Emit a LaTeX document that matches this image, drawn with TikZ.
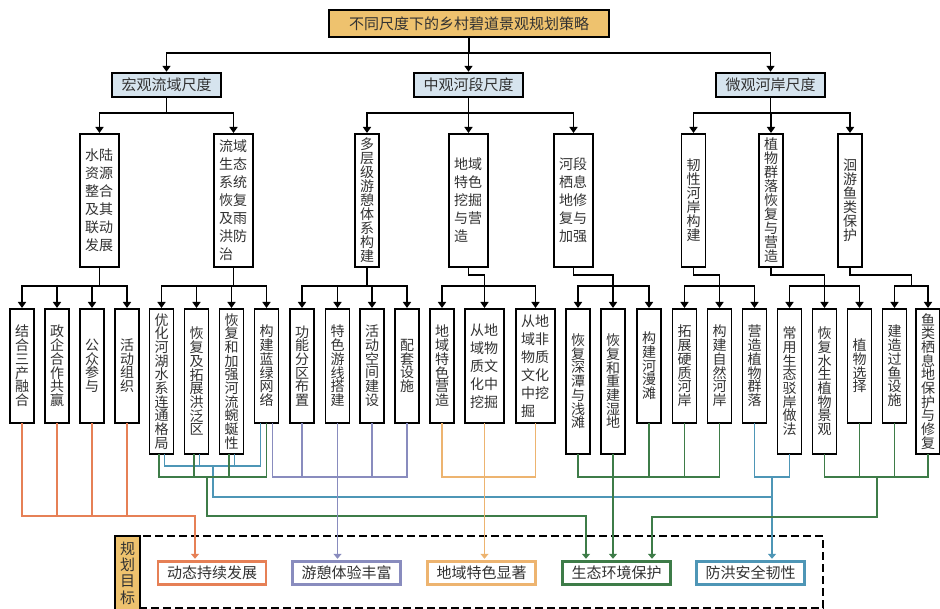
\documentclass[tikz,border=0pt]{standalone}
\usepackage{fontspec}
\setmainfont{Noto Sans CJK SC}
\usetikzlibrary{arrows.meta}
\setlength{\lineskiplimit}{-20pt}
\definecolor{gold}{RGB}{238,194,110}
\definecolor{lblue}{RGB}{214,228,238}
\definecolor{txt}{RGB}{50,50,50}
\definecolor{og}{RGB}{230,128,86}
\definecolor{pu}{RGB}{137,140,190}
\definecolor{tn}{RGB}{237,180,112}
\definecolor{gr}{RGB}{62,124,72}
\definecolor{bl}{RGB}{78,150,182}
\ExplSyntaxOn
\seq_new:N \l_vt_seq
\NewDocumentCommand\V{m}{
  \seq_clear:N \l_vt_seq
  \tl_map_inline:nn {#1} { \seq_put_right:Nn \l_vt_seq {##1} }
  \seq_use:Nn \l_vt_seq {\\}
}
\ExplSyntaxOff
\tikzset{
 conn/.style={line width=1.5pt, line cap=rect},
 arr/.style={conn, -{Triangle[width=8pt,length=6pt]}},
 topbox/.style={draw, line width=2.6pt, fill=gold, minimum width=280pt, minimum height=27pt, inner sep=0pt, text=txt, font=\fontsize{15}{15}\selectfont},
 midbox/.style={draw, line width=2.4pt, fill=lblue, minimum width=109pt, minimum height=24pt, inner sep=0pt, text=txt, font=\fontsize{15}{15}\selectfont},
 vbox/.style={draw, line width=1.7pt, fill=white, inner sep=0pt, text=txt, anchor=north},
 onecol/.style={vbox, minimum width=24pt, text width=15pt, align=center, font=\fontsize{14}{13.7}\selectfont},
 onecolb/.style={vbox, minimum width=24pt, text width=15pt, align=center, font=\fontsize{14}{14}\selectfont},
 twocol/.style={vbox, minimum width=39pt, text width=29pt, align=left, font=\fontsize{14}{18}\selectfont},
 lthree/.style={minimum height=133pt},
 lshort/.style={minimum height=114pt},
 ltall/.style={minimum height=145pt},
 goal/.style={draw=#1, line width=2.4pt, fill=white, minimum width=108pt, minimum height=23pt, inner sep=0pt, text=txt, font=\fontsize{15}{15}\selectfont},
 cl/.style={draw=#1, line width=1.3pt, line cap=rect},
 carr/.style={cl=#1, -{Triangle[width=8pt,length=5pt]}, shorten >=1.5pt},
}
\begin{document}
\begin{tikzpicture}[x=1pt,y=-1pt]
\useasboundingbox (0,0) rectangle (940,609);
% level 1 and 2
\node[topbox] (T) at (469,23.5) {不同尺度下的乡村碧道景观规划策略};
\node[midbox] (M) at (166.5,85) {宏观流域尺度};
\node[midbox] (S) at (468.5,85) {中观河段尺度};
\node[midbox] (W) at (770.5,85) {微观河岸尺度};
% level 3
\node[twocol,lthree] (A) at (99.5,133) {水陆\\资源\\整合\\及其\\联动\\发展};
\node[twocol,lthree] (B) at (233.5,133) {流域\\生态\\系统\\恢复\\及雨\\洪防\\治};
\node[onecolb,lthree] (C) at (367,133) {\V{多层级游憩体系构建}};
\node[twocol,lthree] (D) at (468.5,133) {地域\\特色\\挖掘\\与营\\造};
\node[twocol,lthree] (E) at (573.5,133) {河段\\栖息\\地修\\复与\\加强};
\node[onecolb,lthree] (F) at (693.5,133) {\V{韧性河岸构建}};
\node[onecolb,lthree] (G) at (771,133) {\V{植物群落恢复与营造}};
\node[onecolb,lthree] (H) at (850,133) {\V{洄游鱼类保护}};
% level 4
\node[onecol,lshort] (a1) at (22,308) {\V{结合三产融合}};
\node[onecol,lshort] (a2) at (57,308) {\V{政企合作共赢}};
\node[onecol,lshort] (a3) at (92,308) {\V{公众参与}};
\node[onecol,lshort] (a4) at (127,308) {\V{活动组织}};
\node[onecol,ltall] (b1) at (161.5,308) {\V{优化河湖水系连通格局}};
\node[onecol,ltall] (b2) at (196.5,308) {\V{恢复及拓展洪泛区}};
\node[onecol,ltall] (b3) at (231.5,308) {\V{恢复和加强河流蜿蜒性}};
\node[onecol,lshort] (b4) at (266.5,308) {\V{构建蓝绿网络}};
\node[onecol,lshort] (c1) at (302,308) {\V{功能分区布置}};
\node[onecol,lshort] (c2) at (337.5,308) {\V{特色游线搭建}};
\node[onecol,lshort] (c3) at (372,308) {\V{活动空间建设}};
\node[onecol,lshort] (c4) at (407,308) {\V{配套设施}};
\node[onecol,lshort] (d1) at (442,308) {\V{地域特色营造}};
\node[twocol,lshort] (d2) at (484.5,308) {从地\\域物\\质文\\化中\\挖掘};
\node[twocol,lshort] (d3) at (535.5,308) {从地\\域非\\物质\\文化\\中挖\\掘};
\node[onecol,ltall] (e1) at (578,308) {\V{恢复深潭与浅滩}};
\node[onecol,ltall] (e2) at (613,308) {\V{恢复和重建湿地}};
\node[onecol,lshort] (e3) at (649,308) {\V{构建河漫滩}};
\node[onecol,lshort] (f1) at (684.5,308) {\V{拓展硬质河岸}};
\node[onecol,lshort] (f2) at (719.5,308) {\V{构建自然河岸}};
\node[onecol,lshort] (f3) at (754.5,308) {\V{营造植物群落}};
\node[onecol,ltall] (g1) at (789.5,308) {\V{常用生态驳岸做法}};
\node[onecol,ltall] (g2) at (824.5,308) {\V{恢复水生植物景观}};
\node[onecol,lshort] (g3) at (859.5,308) {\V{植物选择}};
\node[onecol,lshort] (h1) at (894.5,308) {\V{建造过鱼设施}};
\node[onecol,ltall] (h2) at (928,308) {\V{鱼类栖息地保护与修复}};
% goals frame
\node[draw, line width=2pt, dash pattern=on 8pt off 4pt, minimum width=708pt, minimum height=71.5pt, inner sep=0pt] (frame) at (469,571.75) {};
\node[draw, line width=2.6pt, fill=gold, minimum width=25pt, minimum height=74pt, inner sep=0pt, text width=15pt, align=center, text=txt, font=\fontsize{15}{16.3}\selectfont] (lab) at (127.5,573) {\V{规划目标}};
\node[goal=og] (P1) at (212,573) {动态持续发展};
\node[goal=pu] (P2) at (346.5,573) {游憩体验丰富};
\node[goal=tn] (P3) at (481.5,573) {地域特色显著};
\node[goal=gr] (P4) at (616.5,573) {生态环境保护};
\node[goal=bl] (P5) at (750.5,573) {防洪安全韧性};
% black tree: title -> level 2
\draw[conn] (T.south) -- (T.south |- 0,53);
\draw[conn] (M.north |- 0,53) -- (W.north |- 0,53);
\foreach \n in {M,S,W} \draw[arr] (\n.north |- 0,53) -- (\n.north);
% level 2 -> level 3
\draw[conn] (M.south) -- (M.south |- 0,113);
\draw[conn] (A.north |- 0,113) -- (B.north |- 0,113);
\draw[conn] (S.south) -- (S.south |- 0,113);
\draw[conn] (C.north |- 0,113) -- (E.north |- 0,113);
\draw[conn] (W.south) -- (W.south |- 0,113);
\draw[conn] (F.north |- 0,113) -- (H.north |- 0,113);
\foreach \n in {A,B,C,D,E,F,G,H} \draw[arr] (\n.north |- 0,113) -- (\n.north);
% level 3 -> level 4
\draw[conn] (A.south) -- (A.south |- 0,286);
\draw[conn] (a1.north |- 0,286) -- (a4.north |- 0,286);
\draw[conn] (B.south) -- (B.south |- 0,286);
\draw[conn] (b1.north |- 0,286) -- (b4.north |- 0,286);
\draw[conn] (C.south) -- (C.south |- 0,286);
\draw[conn] (c1.north |- 0,286) -- (c4.north |- 0,286);
\draw[conn] (D.south) -- (D.south |- 0,275) -| (d2.north |- 0,286);
\draw[conn] (d1.north |- 0,286) -- (d3.north |- 0,286);
\draw[conn] (E.south) -- (E.south |- 0,275) -| (e2.north |- 0,286);
\draw[conn] (e1.north |- 0,286) -- (e3.north |- 0,286);
\draw[conn] (F.south) -- (F.south |- 0,275) -| (f2.north |- 0,286);
\draw[conn] (f1.north |- 0,286) -- (f3.north |- 0,286);
\draw[conn] (G.south) -- (G.south |- 0,275) -| (g2.north |- 0,286);
\draw[conn] (g1.north |- 0,286) -- (g3.north |- 0,286);
\coordinate (hj) at (911.5,286);
\draw[conn] (H.south) -- (H.south |- 0,275) -| (hj);
\draw[conn] (h1.north |- 0,286) -- (h2.north |- 0,286);
\foreach \n in {a1,a2,a3,a4,b1,b2,b3,b4,c1,c2,c3,c4,d1,d2,d3,e1,e2,e3,f1,f2,f3,g1,g2,g3,h1,h2}
  \draw[arr] (\n.north |- 0,286) -- (\n.north);
% orange
\coordinate (oj) at (195,516);
\foreach \n in {a2,a3,a4} \draw[cl=og] (\n.south) -- (\n.south |- 0,516);
\draw[carr=og] (a1.south) |- (oj) -- (oj |- P1.north);
% blue macro
\draw[cl=bl] ([xshift=3pt]b1.south) |- ([xshift=-6pt]b4.south |- 0,466) -- ([xshift=-6pt]b4.south);
\foreach \n in {b2,b3} \draw[cl=bl] ([xshift=3pt]\n.south) -- ([xshift=3pt]\n.south |- 0,466);
\coordinate (bj1) at (213,466);
\coordinate (bj2) at (772,477);
\draw[carr=bl] (bj1) |- (bj2 |- 0,497) -- (bj2 |- P5.north);
% blue micro
\draw[cl=bl] (f3.south) |- (g1.south |- 0,477) -- (g1.south);
\draw[cl=bl] (bj2) -- (bj2 |- 0,497);
% green macro
\draw[cl=gr] ([xshift=-2.5pt]b1.south) |- (b4.south |- 0,477) -- (b4.south);
\foreach \n in {b2,b3} \draw[cl=gr] ([xshift=-2.5pt]\n.south) -- ([xshift=-2.5pt]\n.south |- 0,477);
\coordinate (gj1) at (207,477);
\coordinate (gk1) at (586,516);
\draw[carr=gr] (gj1) |- (gk1) -- (gk1 |- P4.north);
% purple
\draw[cl=pu] ([xshift=6pt]b4.south) |- (c4.south |- 0,477) -- (c4.south);
\foreach \n in {c1,c3} \draw[cl=pu] (\n.south) -- (\n.south |- 0,477);
\draw[carr=pu] (c2.south) -- (c2.south |- P2.north);
% tan
\draw[cl=tn] (d1.south) |- (d3.south |- 0,477) -- (d3.south);
\draw[carr=tn] (d2.south) -- (d2.south |- P3.north);
% green meso
\draw[cl=gr] (e1.south) |- (f2.south |- 0,477) -- (f2.south);
\foreach \n in {e3,f1} \draw[cl=gr] (\n.south) -- (\n.south |- 0,477);
\draw[carr=gr] (e2.south) -- (e2.south |- P4.north);
% green micro
\draw[cl=gr] (g2.south) |- (h2.south |- 0,477) -- (h2.south);
\foreach \n in {g3,h1} \draw[cl=gr] (\n.south) -- (\n.south |- 0,477);
\coordinate (gj3) at (877,477);
\coordinate (gk3) at (652,517);
\draw[carr=gr] (gj3) |- (gk3) -- (gk3 |- P4.north);
\end{tikzpicture}
\end{document}
